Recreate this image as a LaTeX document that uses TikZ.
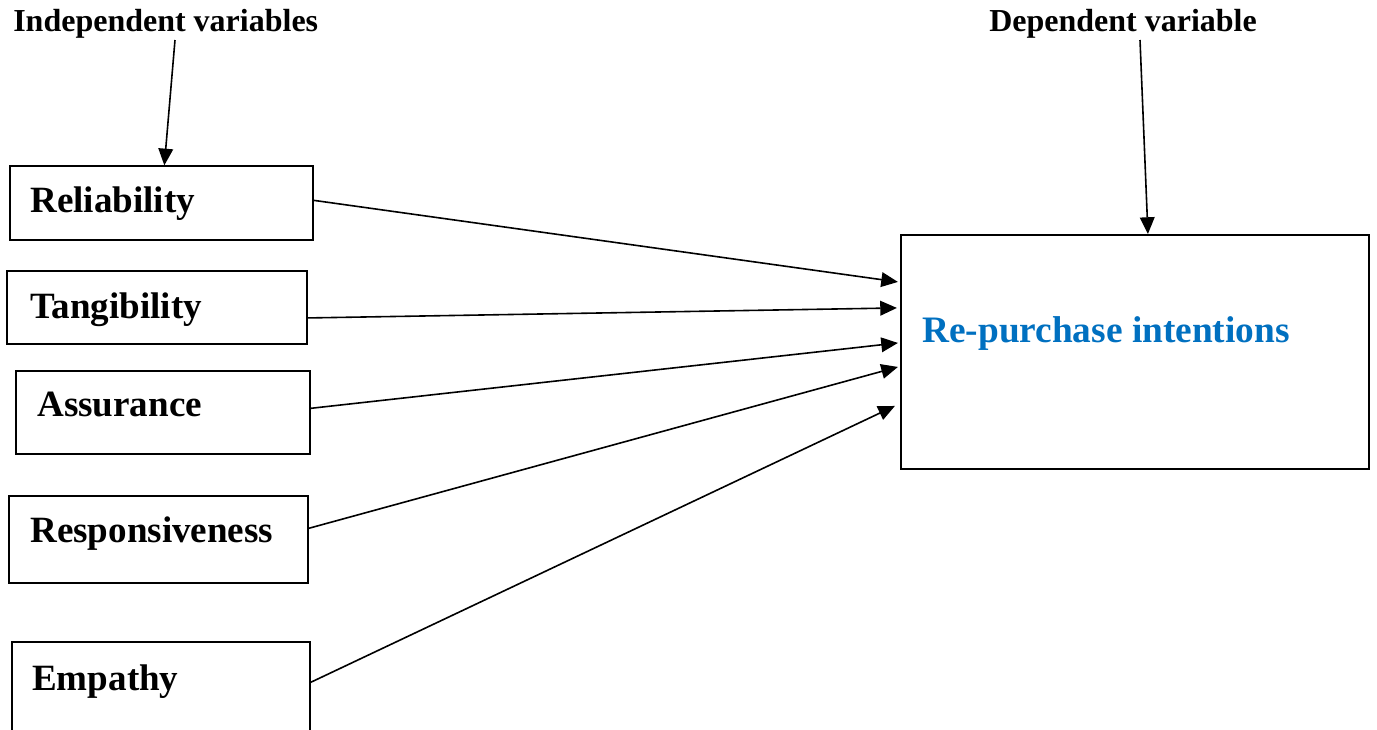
\documentclass[tikz,border=0pt]{standalone}
\usepackage{fontspec}
\setmainfont{Liberation Serif}
\usetikzlibrary{arrows.meta,calc,fit}
\definecolor{dvblue}{HTML}{0070C0}
\begin{document}
\begin{tikzpicture}[x=0.75pt,y=-0.75pt,
  varbox/.style={draw=black,line width=1pt,inner sep=0pt,fill=none},
  thickbox/.style={varbox,line width=1.6pt},
  boxtext/.style={anchor=base west,inner sep=0pt,font=\fontsize{27.8}{31}\selectfont\bfseries},
  headtext/.style={anchor=base west,inner sep=0pt,font=\fontsize{24}{28}\selectfont\bfseries},
  link/.style={line width=1.2pt,-{Triangle[length=12.5pt,width=11pt]}}]
\useasboundingbox (0,0) rectangle (1377,729);
\clip (0,0) rectangle (1377,729);
\fill[white] (0,0) rectangle (1377,729);

% headings
\node[headtext] (indep) at (13,31) {Independent variables};
\node[headtext] (dep) at (989,31) {Dependent variable};

% independent variable boxes
\node[varbox,fit={(10,166) (313,240)}] (rel) {};
\node[thickbox,fit={(7,271) (307,344)}] (tang) {};
\node[varbox,fit={(16,371) (310,454)}] (assu) {};
\node[varbox,fit={(9,496) (308,583)}] (resp) {};
\node[varbox,fit={(12,642) (310,770)}] (emp) {};

\node[boxtext] (relt) at (30,212) {Reliability};
\node[boxtext] (tangt) at (30,318) {Tangibility};
\node[boxtext] (assut) at (37,416) {Assurance};
\node[boxtext] (respt) at (30,542) {Responsiveness};
\node[boxtext] (empt) at (32,690) {Empathy};

% dependent variable box
\node[thickbox,fit={(901,235) (1369,469)}] (rp) {};
\node[boxtext,font=\fontsize{28}{32}\selectfont\bfseries,text=dvblue] (rpt) at (922,342) {Re-purchase intentions};

% heading pointers
\draw[link] ($(indep.base west)+(162,9)$) -- ($(rel.north west)+(155,0)$);
\draw[link] ($(dep.base west)+(151,9)$) -- ($(rp.north west)+(248,0)$);

% paths into the dependent variable
\draw[link] ($(rel.north east)+(0,35)$) -- ($(rp.north west)+(-2,48)$);
\draw[link] ($(tang.north east)+(0,48)$) -- ($(rp.north west)+(-3,74)$);
\draw[link] ($(assu.north east)+(0,38)$) -- ($(rp.north west)+(-2,109)$);
\draw[link] ($(resp.north east)+(0,33)$) -- ($(rp.north west)+(-2,133)$);
\draw[link] ($(emp.north east)+(0,41)$) -- ($(rp.north west)+(-5,172)$);
\end{tikzpicture}
\end{document}
